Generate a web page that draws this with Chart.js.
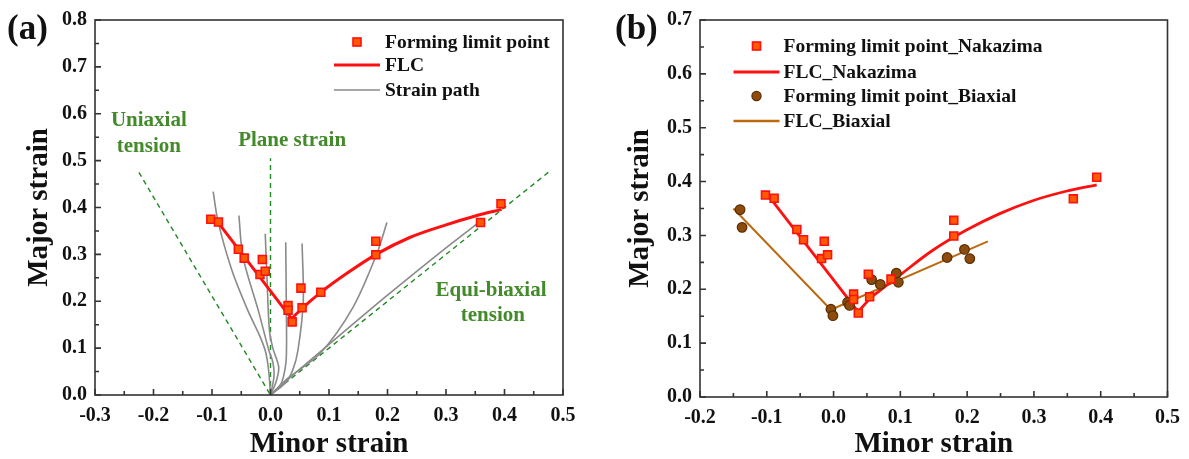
<!DOCTYPE html>
<html>
<head>
<meta charset="utf-8">
<script src="https://cdn.jsdelivr.net/npm/chart.js@4.4.0/dist/chart.umd.min.js"></script>
<style>
html, body { margin: 0; padding: 0; background: #fff; }
#wrap { position: relative; width: 1189px; height: 459px; }
canvas { position: absolute; top: 0; }
</style>
</head>
<body>
<div id="wrap">
  <canvas id="chartA" width="595" height="459" style="left:0"></canvas>
  <canvas id="chartB" width="594" height="459" style="left:595px"></canvas>
</div>
<script>
// ---- data (minor strain = x, major strain = y) ----

// forming limit points, Nakazima test (used in both panels)
var flpMinor = [-0.102, -0.089, -0.055, -0.045, -0.014, -0.018, -0.009, 0.030, 0.030, 0.037, 0.052, 0.054, 0.086, 0.180, 0.180, 0.359, 0.394];
var flpMajor = [0.375, 0.369, 0.311, 0.292, 0.289, 0.257, 0.264, 0.191, 0.181, 0.156, 0.228, 0.186, 0.219, 0.328, 0.299, 0.368, 0.408];

// FLC panel (a): straight left branch, curved right branch
var flcALeftMinor = [-0.092, 0.036];
var flcALeftMajor = [0.372, 0.163];
var flcARightMinor = [0.036, 0.055, 0.086, 0.130, 0.182, 0.238, 0.300, 0.350, 0.395];
var flcARightMajor = [0.163, 0.186, 0.219, 0.259, 0.301, 0.336, 0.363, 0.382, 0.396];

// strain paths panel (a)
var path1Minor = [0, -0.003, -0.008, -0.018, -0.039, -0.066, -0.090, -0.098];
var path1Major = [0, 0.050, 0.090, 0.125, 0.181, 0.266, 0.372, 0.434];
var path2Minor = [0, 0.006, 0.004, -0.003, -0.021, -0.047, -0.054];
var path2Major = [0, 0.040, 0.070, 0.096, 0.181, 0.294, 0.383];
var path3Minor = [0, 0.010, 0.014, 0.004, -0.002, -0.006, -0.009];
var path3Major = [0, 0.030, 0.060, 0.100, 0.140, 0.250, 0.344];
var path4Minor = [0, 0.016, 0.022, 0.027, 0.027, 0.026];
var path4Major = [0, 0.020, 0.038, 0.080, 0.196, 0.326];
var path5Minor = [0, 0.025, 0.038, 0.047, 0.056, 0.054];
var path5Major = [0, 0.025, 0.053, 0.096, 0.200, 0.323];
var path6Minor = [0, 0.026, 0.085, 0.141, 0.182, 0.199];
var path6Major = [0, 0.032, 0.089, 0.187, 0.302, 0.368];
var path7Minor = [0, 0.050, 0.100, 0.200, 0.300, 0.358];
var path7Major = [0, 0.055, 0.108, 0.213, 0.314, 0.370];

// reference strain states
var uniaxialMinor = [-0.225, 0];
var uniaxialMajor = [0.475, 0];
var planeMinor = [0, 0];
var planeMajor = [0, 0.505];
var equiMinor = [0, 0.475];
var equiMajor = [0, 0.475];

// FLC panel (b), Nakazima
var flcBLeftMinor = [-0.096, 0.037];
var flcBLeftMajor = [0.371, 0.158];
var flcBRightMinor = [0.037, 0.054, 0.075, 0.099, 0.148, 0.199, 0.248, 0.297, 0.348, 0.394];
var flcBRightMajor = [0.158, 0.182, 0.203, 0.226, 0.272, 0.310, 0.340, 0.364, 0.382, 0.394];

// forming limit points, biaxial test
var biaMinor = [-0.140, -0.137, -0.004, -0.001, 0.021, 0.024, 0.057, 0.070, 0.094, 0.097, 0.170, 0.196, 0.204];
var biaMajor = [0.348, 0.315, 0.163, 0.151, 0.176, 0.170, 0.218, 0.209, 0.230, 0.213, 0.259, 0.274, 0.257];
var flcBiaMinor = [-0.150, -0.004, 0.231];
var flcBiaMajor = [0.350, 0.162, 0.289];

// ---- styles ----
var SERIF = '"Times New Roman", "Liberation Serif", serif';
var RED = '#ff1010';
var SQ_FILL = '#ff5a00';
var BROWN_FILL = '#8e4c0c';
var BROWN_EDGE = '#5a2d02';
var BROWN_LINE = '#bb6a10';
var GRAY = '#8a8a8a';
var GREEN_DASH = '#1f8a1f';
var GREEN_TEXT = '#428a2a';

function pts(xs, ys) {
    return xs.map(function (x, i) { return { x: x, y: ys[i] }; });
}

function line(xs, ys, color, width, extra) {
    var ds = {
        data: pts(xs, ys),
        showLine: true,
        borderColor: color,
        borderWidth: width,
        pointRadius: 0,
        fill: false,
        tension: 0,
    };
    return Object.assign(ds, extra || {});
}

function squares(xs, ys) {
    return {
        data: pts(xs, ys),
        showLine: false,
        pointStyle: 'rect',
        pointRadius: 5.6,
        backgroundColor: SQ_FILL,
        borderColor: RED,
        pointBorderWidth: 1.6,
    };
}

function tickFmt(v) {
    if (Math.abs(v) < 1e-9) return '0.0';
    return Number(v).toFixed(1);
}

function axes(xMin, xMax, yMax, yWidth, xHeight, yTitlePad) {
    var tickFont = { family: SERIF, size: 20, weight: 'bold' };
    var titleFont = { family: SERIF, size: 29, weight: 'bold', lineHeight: 1 };
    return {
        x: {
            type: 'linear', min: xMin, max: xMax,
            grid: { display: false, drawTicks: false },
            border: { display: false },
            ticks: { stepSize: 0.1, color: '#111', font: tickFont, padding: 9, maxRotation: 0, callback: tickFmt },
            title: { display: true, text: 'Minor strain', color: '#111', font: titleFont, padding: { top: 0, bottom: 0 } },
            afterFit: function (s) { s.height = xHeight; },
        },
        y: {
            type: 'linear', min: 0, max: yMax,
            grid: { display: false, drawTicks: false },
            border: { display: false },
            ticks: { stepSize: 0.1, color: '#111', font: tickFont, padding: 8, callback: tickFmt },
            title: { display: true, text: 'Major strain', color: '#111', font: titleFont, padding: { top: yTitlePad, bottom: 0 } },
            afterFit: function (s) { s.width = yWidth; },
        },
    };
}

// frame, inward ticks, panel letter, legend and text notes
function panelPlugin(cfg) {
    return {
        id: 'panel',
        afterDraw: function (chart) {
            var ctx = chart.ctx, a = chart.chartArea;
            var xs = chart.scales.x, ys = chart.scales.y;
            ctx.save();
            ctx.strokeStyle = '#333';
            ctx.lineWidth = 1.6;
            ctx.strokeRect(a.left, a.top, a.right - a.left, a.bottom - a.top);

            ctx.beginPath();
            xs.ticks.forEach(function (t, i) {
                var p = xs.getPixelForValue(t.value);
                ctx.moveTo(p, a.bottom); ctx.lineTo(p, a.bottom - 6);
                if (i < xs.ticks.length - 1) {
                    var m = xs.getPixelForValue((t.value + xs.ticks[i + 1].value) / 2);
                    ctx.moveTo(m, a.bottom); ctx.lineTo(m, a.bottom - 4);
                }
            });
            ys.ticks.forEach(function (t, i) {
                var p = ys.getPixelForValue(t.value);
                ctx.moveTo(a.left, p); ctx.lineTo(a.left + 6, p);
                if (i < ys.ticks.length - 1) {
                    var m = ys.getPixelForValue((t.value + ys.ticks[i + 1].value) / 2);
                    ctx.moveTo(a.left, m); ctx.lineTo(a.left + 4, m);
                }
            });
            ctx.stroke();

            // panel letter
            ctx.fillStyle = '#111';
            ctx.font = 'bold 35px ' + SERIF;
            ctx.textAlign = 'left';
            ctx.textBaseline = 'middle';
            ctx.fillText(cfg.letter, cfg.letterX, 30);

            // notes placed in data coordinates
            ctx.fillStyle = GREEN_TEXT;
            ctx.font = 'bold 21px ' + SERIF;
            ctx.textAlign = 'center';
            (cfg.notes || []).forEach(function (n) {
                ctx.fillText(n.text, xs.getPixelForValue(n.x), ys.getPixelForValue(n.y));
            });

            // legend
            var L = cfg.legend;
            ctx.font = 'bold 19.5px ' + SERIF;
            ctx.textAlign = 'left';
            L.items.forEach(function (it, i) {
                var y = a.top + L.rows[i];
                var cx = a.right - L.symbolOffset;
                if (it.kind === 'square') {
                    ctx.fillStyle = SQ_FILL; ctx.strokeStyle = RED; ctx.lineWidth = 1.6;
                    ctx.fillRect(cx - 4, y - 4, 8, 8); ctx.strokeRect(cx - 4, y - 4, 8, 8);
                } else if (it.kind === 'circle') {
                    ctx.fillStyle = BROWN_FILL; ctx.strokeStyle = BROWN_EDGE; ctx.lineWidth = 1.2;
                    ctx.beginPath(); ctx.arc(cx, y, 4.6, 0, Math.PI * 2); ctx.fill(); ctx.stroke();
                } else {
                    ctx.strokeStyle = it.color; ctx.lineWidth = it.width;
                    ctx.beginPath(); ctx.moveTo(cx - L.lineHalf, y); ctx.lineTo(cx + L.lineHalf, y); ctx.stroke();
                }
                ctx.fillStyle = '#111';
                ctx.fillText(it.text, a.right - L.textOffset, y + 1);
            });
            ctx.restore();
        },
    };
}

var common = {
    responsive: false,
    animation: false,
    devicePixelRatio: 1,
    plugins: { legend: { display: false }, tooltip: { enabled: false } },
};

// ---- panel (a) ----
var dataA = {
    datasets: [
        squares(flpMinor, flpMajor),
        line(flcALeftMinor, flcALeftMajor, RED, 3),
        line(flcARightMinor, flcARightMajor, RED, 3, { cubicInterpolationMode: 'monotone' }),
        line(path1Minor, path1Major, GRAY, 1.6, { tension: 0.3 }),
        line(path2Minor, path2Major, GRAY, 1.6, { tension: 0.3 }),
        line(path3Minor, path3Major, GRAY, 1.6, { tension: 0.3 }),
        line(path4Minor, path4Major, GRAY, 1.6, { tension: 0.3 }),
        line(path5Minor, path5Major, GRAY, 1.6, { tension: 0.3 }),
        line(path6Minor, path6Major, GRAY, 1.6, { tension: 0.3 }),
        line(path7Minor, path7Major, GRAY, 1.6, { tension: 0.3 }),
        line(uniaxialMinor, uniaxialMajor, GREEN_DASH, 1.4, { borderDash: [5, 4] }),
        line(planeMinor, planeMajor, GREEN_DASH, 1.4, { borderDash: [5, 4] }),
        line(equiMinor, equiMajor, GREEN_DASH, 1.4, { borderDash: [5, 4] }),
    ],
};

var chartA = new Chart(document.getElementById('chartA'), {
    type: 'scatter',
    data: dataA,
    options: Object.assign({}, common, {
        layout: { padding: { top: 19, right: 32, left: 0, bottom: 0 } },
        scales: axes(-0.3, 0.5, 0.8, 95, 64, 25),
    }),
    plugins: [panelPlugin({
        letter: '(a)', letterX: 7,
        notes: [
            { text: 'Uniaxial', x: -0.208, y: 0.585 },
            { text: 'tension', x: -0.208, y: 0.530 },
            { text: 'Plane strain', x: 0.037, y: 0.543 },
            { text: 'Equi-biaxial', x: 0.377, y: 0.223 },
            { text: 'tension', x: 0.380, y: 0.170 },
        ],
        legend: {
            symbolOffset: 206, textOffset: 178, lineHalf: 23,
            rows: [22, 45, 70],
            items: [
                { kind: 'square', text: 'Forming limit point' },
                { kind: 'line', color: RED, width: 3, text: 'FLC' },
                { kind: 'line', color: GRAY, width: 1.6, text: 'Strain path' },
            ],
        },
    })],
});

// ---- panel (b) ----
var dataB = {
    datasets: [
        squares(flpMinor, flpMajor),
        {
            data: pts(biaMinor, biaMajor),
            showLine: false,
            pointStyle: 'circle',
            pointRadius: 4.8,
            backgroundColor: BROWN_FILL,
            borderColor: BROWN_EDGE,
            pointBorderWidth: 1.2,
        },
        line(flcBLeftMinor, flcBLeftMajor, RED, 2.8),
        line(flcBRightMinor, flcBRightMajor, RED, 2.8, { cubicInterpolationMode: 'monotone' }),
        line(flcBiaMinor, flcBiaMajor, BROWN_LINE, 2),
    ],
};

var chartB = new Chart(document.getElementById('chartB'), {
    type: 'scatter',
    data: dataB,
    options: Object.assign({}, common, {
        layout: { padding: { top: 19, right: 20, left: 0, bottom: 0 } },
        scales: axes(-0.2, 0.5, 0.7, 105, 62, 31),
    }),
    plugins: [panelPlugin({
        letter: '(b)', letterX: 20,
        legend: {
            symbolOffset: 411, textOffset: 384, lineHalf: 23,
            rows: [26, 52, 76, 101],
            items: [
                { kind: 'square', text: 'Forming limit point_Nakazima' },
                { kind: 'line', color: RED, width: 2.8, text: 'FLC_Nakazima' },
                { kind: 'circle', text: 'Forming limit point_Biaxial' },
                { kind: 'line', color: BROWN_LINE, width: 2.4, text: 'FLC_Biaxial' },
            ],
        },
    })],
});
</script>
</body>
</html>
